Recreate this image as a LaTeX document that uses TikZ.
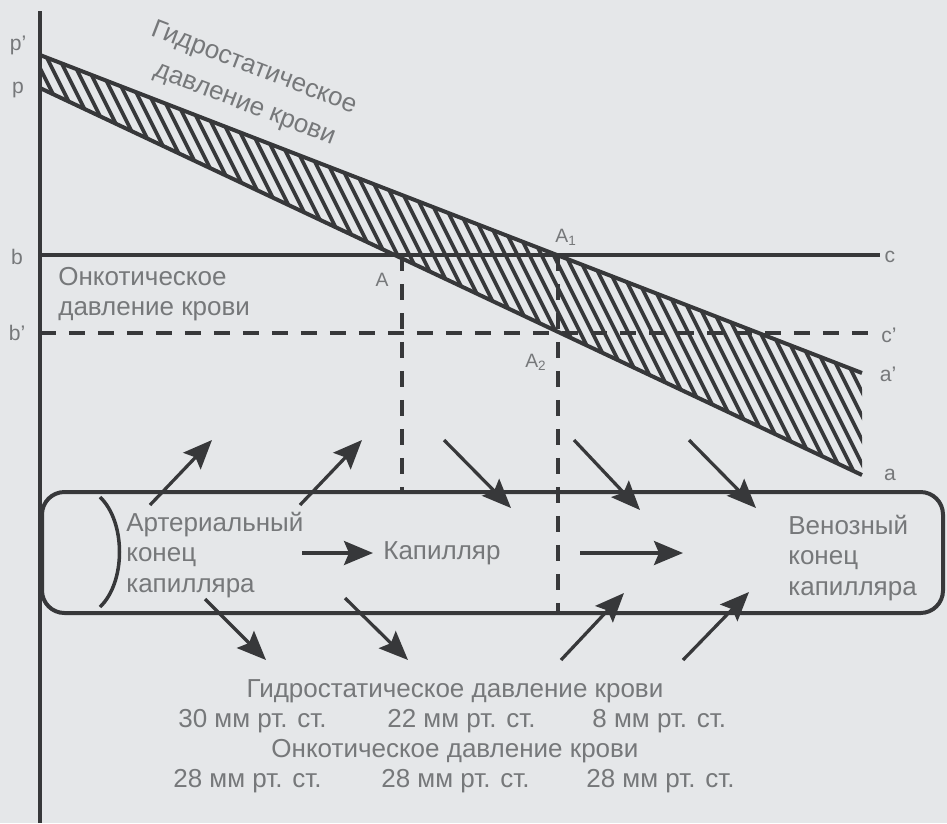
\documentclass[tikz,border=0pt]{standalone}
\usepackage{fontspec}
\setmainfont{Liberation Sans}
\usetikzlibrary{arrows.meta}
\definecolor{paper}{RGB}{229,231,233}
\definecolor{inkdark}{RGB}{55,56,58}
\definecolor{inkgray}{RGB}{118,120,122}

\begin{document}
\begin{tikzpicture}[x=0.02cm, y=-0.02cm,
    bandedge/.style={draw=inkdark, line width=0.08cm},
    guide/.style={draw=inkdark, line width=0.08cm, dash pattern=on 0.32cm off 0.26cm},
    flow/.style={draw=inkdark, line width=0.065cm, -{Stealth[length=0.58cm,width=0.48cm,inset=0.1cm]}},
    caption/.style={text=inkgray, font=\fontsize{14.8}{17.5}\selectfont, inner sep=0pt},
    axlabel/.style={text=inkgray, font=\fontsize{12}{14}\selectfont, inner sep=0pt},
    ptlabel/.style={text=inkgray, font=\fontsize{11}{13}\selectfont, inner sep=0pt}]

    % page and background
    \fill[paper] (0,0) rectangle (947,823);
    \useasboundingbox (0,0) rectangle (947,823);

    % corner points of the pressure lines
    \coordinate (pp) at (40,55);
    \coordinate (p) at (40,88);
    \coordinate (aa) at (862,373);
    \coordinate (a) at (862,475);
    \coordinate (b) at (40,255);
    \coordinate (c) at (880,255);
    \coordinate (bb) at (40,333);
    \coordinate (cc) at (880,333);
    \coordinate (A) at (402,255);
    \coordinate (A1) at (558,255);
    \coordinate (Afoot) at (402,492);
    \coordinate (A1foot) at (558,613);

    % hatched band between p'-a' and p-a
    \begin{scope}
        \clip (pp) -- (aa) -- (a) -- (p) -- cycle;
        \foreach \s in {-210,-198,...,870}
            \draw[inkdark, line width=0.075cm] (\s,0) -- (\s+260,520);
    \end{scope}
    \draw[bandedge] (pp) -- (aa);
    \draw[bandedge] (p) -- (a);

    % oncotic pressure levels
    \draw[inkdark, line width=0.07cm] (b) -- (c);
    \draw[guide] (bb) -- (cc);

    % drop lines from the crossing points
    \draw[guide] (A) -- (Afoot);
    \draw[guide] (A1) -- (A1foot);

    % capillary
    \draw[inkdark, line width=0.08cm, rounded corners=0.45cm] (42,492) rectangle (943,613);
    \draw[inkdark, line width=0.07cm] (100,497) .. controls (126,522) and (126,582) .. (100,607);

    % axis
    \draw[inkdark, line width=0.07cm] (40,11) -- (40,823);

    % filtration and reabsorption arrows
    \foreach \n/\x/\y/\u/\v in {1/150/505/212/440, 2/300/505/362/440,
                               3/444/440/511/508, 4/574/440/640/510, 5/689/440/756/508,
                               6/205/599/266/660, 7/345/598/408/660,
                               8/561/660/624/593, 9/683/660/749/592,
                               10/302/553/373/553, 11/580/553/683/553} {
        \coordinate (s\n) at (\x,\y);
        \coordinate (e\n) at (\u,\v);
        \draw[flow] (s\n) -- (e\n);
    }

    % axis and point labels
    \node[axlabel] (lpp) at (18,45) {p'};
    \node[axlabel] (lp) at (18,90) {p};
    \node[axlabel] (lb) at (17,257) {b};
    \node[axlabel] (lbb) at (17,333) {b'};
    \node[axlabel] (lc) at (890,257) {c};
    \node[axlabel] (lcc) at (889,335) {c'};
    \node[axlabel] (laa) at (888,374) {a'};
    \node[axlabel] (la) at (890,475) {a};
    \node[ptlabel] (lA) at (382,280) {A};
    \node[ptlabel] (lA1) at (566,237) {A\textsubscript{1}};
    \node[ptlabel] (lA2) at (536,362) {A\textsubscript{2}};

    % curve captions
    \node[caption, font=\fontsize{14.8}{21}\selectfont, rotate=-21, anchor=north west, align=left]
        (hydro) at (156,18) {Гидростатическое\\\hspace*{10pt}давление крови};
    \node[caption, anchor=west, align=left] (onco) at (58,294) {Онкотическое\\давление крови};

    % text inside the capillary
    \node[caption, anchor=west, align=left] (arterial) at (126,555) {Артериальный\\конец\\капилляра};
    \node[caption, anchor=west] (capil) at (383,553) {Капилляр};
    \node[caption, anchor=west, align=left] (venous) at (788,558) {Венозный\\конец\\капилляра};

    % pressure values
    \node[caption] (hydroT) at (455,691) {Гидростатическое давление крови};
    \node[caption, anchor=west] (h1) at (178,721) {30 мм рт. ст.};
    \node[caption, anchor=west] (h2) at (387,721) {22 мм рт. ст.};
    \node[caption, anchor=west] (h3) at (592,721) {8 мм рт. ст.};
    \node[caption] (oncoT) at (455,751) {Онкотическое давление крови};
    \node[caption, anchor=west] (o1) at (173,781) {28 мм рт. ст.};
    \node[caption, anchor=west] (o2) at (381,781) {28 мм рт. ст.};
    \node[caption, anchor=west] (o3) at (586,781) {28 мм рт. ст.};

\end{tikzpicture}
\end{document}
